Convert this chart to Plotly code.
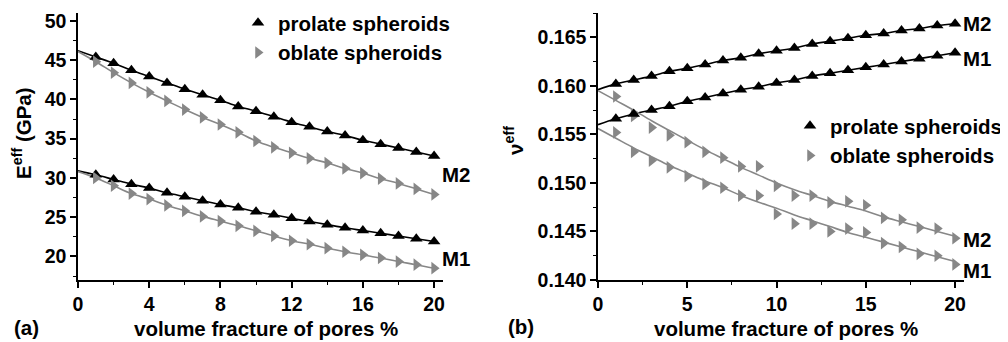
import plotly.graph_objects as go

# ---------------- data ----------------
pores = list(range(1, 21))          # volume fraction of pores, % (marker positions)
fit_x = list(range(0, 21))          # fit line positions

# (a) effective Young's modulus, GPa
E_prolate_M2 = [45.4, 44.6, 43.7, 42.9, 42.1, 41.3, 40.6, 39.9, 39.1, 38.5,
                37.8, 37.1, 36.5, 35.9, 35.4, 34.8, 34.3, 33.8, 33.3, 32.8]
E_oblate_M2 = [44.8, 43.4, 42.1, 40.9, 39.8, 38.7, 37.7, 36.8, 35.8, 34.7,
               33.9, 33.2, 32.5, 31.9, 31.2, 30.6, 29.9, 29.3, 28.6, 27.9]
E_prolate_M1 = [30.4, 29.8, 29.2, 28.7, 28.1, 27.6, 27.1, 26.6, 26.2, 25.7,
                25.3, 24.85, 24.45, 24.05, 23.65, 23.3, 22.95, 22.6, 22.25, 21.9]
E_oblate_M1 = [30.0, 29.0, 28.0, 27.3, 26.5, 25.8, 25.1, 24.5, 23.9, 23.25,
               22.6, 22.0, 21.55, 21.05, 20.6, 20.2, 19.8, 19.35, 18.95, 18.5]
E_start = {"prolate_M2": 46.2, "oblate_M2": 46.1, "prolate_M1": 30.9, "oblate_M1": 30.8}

# (b) effective Poisson's ratio
nu_prolate_M2 = [0.1602, 0.1606, 0.1610, 0.1615, 0.1618, 0.1622, 0.1626, 0.1629, 0.1633, 0.1636,
                 0.1639, 0.1643, 0.1646, 0.1649, 0.1652, 0.1654, 0.1657, 0.1659, 0.1662, 0.1664]
nu_prolate_M1 = [0.1566, 0.1571, 0.1575, 0.1579, 0.1584, 0.1588, 0.1592, 0.1596, 0.1599, 0.1603,
                 0.1606, 0.1610, 0.1613, 0.1616, 0.1619, 0.1622, 0.1625, 0.1628, 0.1631, 0.1634]
nu_oblate_M2 = [0.1589, 0.1569, 0.1557, 0.1549, 0.1542, 0.1532, 0.1526, 0.1517, 0.1517, 0.1497,
                0.1487, 0.1487, 0.1480, 0.1481, 0.1477, 0.1464, 0.1462, 0.1454, 0.1453, 0.1443]
nu_oblate_M1 = [0.1552, 0.1532, 0.1523, 0.1516, 0.1507, 0.1499, 0.1495, 0.1487, 0.1487, 0.1468,
                0.1458, 0.1458, 0.1450, 0.1453, 0.1449, 0.1438, 0.1434, 0.1427, 0.1425, 0.1416]
nu_start = {"prolate_M2": 0.1596, "prolate_M1": 0.1560}
nu_fit_oblate_M2 = [0.1595, 0.1585, 0.1575, 0.1564, 0.1554, 0.1544, 0.1534, 0.1525, 0.1516, 0.1508,
                    0.1500, 0.1493, 0.1487, 0.1481, 0.1476, 0.1471, 0.1465, 0.1460, 0.1455, 0.1450, 0.1445]
nu_fit_oblate_M1 = [0.1556, 0.1546, 0.1536, 0.1527, 0.1518, 0.1510, 0.1502, 0.1495, 0.1487, 0.1480,
                    0.1474, 0.1467, 0.1461, 0.1455, 0.1449, 0.1444, 0.1439, 0.1434, 0.1429, 0.1424, 0.1419]

left_xticks = [0, 4, 8, 12, 16, 20]
right_xticks = [0, 5, 10, 15, 20]

# ---------------- style ----------------
FONT = "Liberation Sans, Arial, sans-serif"
BLACK = "#000000"
GRAY = "#878787"
MS = 11

fig = go.Figure()


def line(x, y, color, xa, ya):
    fig.add_trace(go.Scatter(x=x, y=y, mode="lines", name="fit",
                             line=dict(color=color, width=1.6, shape="spline"),
                             xaxis=xa, yaxis=ya, showlegend=False, hoverinfo="skip"))


def marks(x, y, symbol, color, xa, ya, name, legend="legend", show=False):
    fig.add_trace(go.Scatter(x=x, y=y, mode="markers", name=name,
                             marker=dict(symbol=symbol, size=MS, color=color, line=dict(width=0)),
                             xaxis=xa, yaxis=ya, showlegend=show, legend=legend))


# panel (a)
line([0] + pores, [E_start["prolate_M2"]] + E_prolate_M2, BLACK, "x", "y")
line([0] + pores, [E_start["oblate_M2"]] + E_oblate_M2, GRAY, "x", "y")
line([0] + pores, [E_start["prolate_M1"]] + E_prolate_M1, BLACK, "x", "y")
line([0] + pores, [E_start["oblate_M1"]] + E_oblate_M1, GRAY, "x", "y")
marks(pores, E_prolate_M2, "triangle-up", BLACK, "x", "y", "prolate spheroids", "legend", True)
marks(pores, E_oblate_M2, "triangle-right", GRAY, "x", "y", "oblate spheroids", "legend", True)
marks(pores, E_prolate_M1, "triangle-up", BLACK, "x", "y", "prolate spheroids")
marks(pores, E_oblate_M1, "triangle-right", GRAY, "x", "y", "oblate spheroids")

# panel (b)
line([0] + pores, [nu_start["prolate_M2"]] + nu_prolate_M2, BLACK, "x2", "y2")
line([0] + pores, [nu_start["prolate_M1"]] + nu_prolate_M1, BLACK, "x2", "y2")
line(fit_x, nu_fit_oblate_M2, GRAY, "x2", "y2")
line(fit_x, nu_fit_oblate_M1, GRAY, "x2", "y2")
marks(pores, nu_prolate_M2, "triangle-up", BLACK, "x2", "y2", "prolate spheroids", "legend2", True)
marks(pores, nu_oblate_M2, "triangle-right", GRAY, "x2", "y2", "oblate spheroids", "legend2", True)
marks(pores, nu_prolate_M1, "triangle-up", BLACK, "x2", "y2", "prolate spheroids")
marks(pores, nu_oblate_M1, "triangle-right", GRAY, "x2", "y2", "oblate spheroids")

# the page body has an 8px margin: figure covers the remaining window area
OFF = 8
W, H = 1008 - OFF, 342 - OFF


def px(x):
    """window pixel x -> paper fraction"""
    return (x - OFF) / W


def py(y):
    """window pixel y -> paper fraction"""
    return 1 - (y - OFF) / H


tickfont = dict(family=FONT, size=19.5, color=BLACK, weight="bold")
common = dict(showline=True, linecolor=BLACK, linewidth=1.5, ticks="outside", ticklen=6, tickwidth=1.5,
              tickcolor=BLACK, showgrid=False, zeroline=False, tickfont=tickfont, mirror=False,
              automargin=False)
minor = dict(ticks="outside", ticklen=3.5, tickwidth=1.2, tickcolor=BLACK)

ydom = [py(280), py(13)]
legfont = dict(family=FONT, size=20.5, color=BLACK, weight="bold")
fig.update_layout(
    width=W, height=H, margin=dict(l=0, r=0, t=0, b=0, pad=0, autoexpand=False),
    paper_bgcolor="white", plot_bgcolor="white",
    font=dict(family=FONT, color=BLACK),
    xaxis=dict(domain=[px(78), px(443)], range=[0, 20.5], tickvals=left_xticks, anchor="y",
               minor=dict(dtick=2, tick0=0, **minor), **common),
    yaxis=dict(domain=ydom, range=[17, 51], dtick=5, tick0=0, anchor="x",
               minor=dict(dtick=2.5, tick0=0, **minor), **common),
    xaxis2=dict(domain=[px(598), px(964)], range=[0, 20.5], tickvals=right_xticks, anchor="y2",
                minor=dict(dtick=2.5, tick0=0, **minor), **common),
    yaxis2=dict(domain=ydom, range=[0.140, 0.1675], dtick=0.005, tick0=0.140, tickformat=".3f", anchor="x2",
                minor=dict(dtick=0.0025, tick0=0.140, **minor), **common),
    legend=dict(x=px(238), y=py(38), xanchor="left", yanchor="middle", bgcolor="rgba(0,0,0,0)",
                font=legfont, itemwidth=30),
    legend2=dict(x=px(790), y=py(141), xanchor="left", yanchor="middle", bgcolor="rgba(0,0,0,0)",
                 font=legfont, itemwidth=30),
)

lab = dict(family=FONT, size=20.5, color=BLACK, weight="bold")
ann = []
# axis titles
ann.append(dict(text="volume fracture of pores %", x=px(266), y=py(328), xref="paper", yref="paper",
                showarrow=False, font=lab, xanchor="center", yanchor="middle"))
ann.append(dict(text="volume fracture of pores %", x=px(786), y=py(328), xref="paper", yref="paper",
                showarrow=False, font=lab, xanchor="center", yanchor="middle"))
ann.append(dict(text="E<sup>eff</sup> (GPa)", x=px(22), y=py(133), xref="paper", yref="paper",
                showarrow=False, font=lab, textangle=-90, xanchor="center", yanchor="middle"))
ann.append(dict(text="ν<sup>eff</sup>", x=px(514), y=py(141), xref="paper", yref="paper",
                showarrow=False, font=lab, textangle=-90, xanchor="center", yanchor="middle"))
# panel tags
ann.append(dict(text="(a)", x=px(26), y=py(327), xref="paper", yref="paper", showarrow=False, font=lab,
                xanchor="center", yanchor="middle"))
ann.append(dict(text="(b)", x=px(521), y=py(326), xref="paper", yref="paper", showarrow=False, font=lab,
                xanchor="center", yanchor="middle"))
# series labels
for xr, yr, yv, t, sh in [("x", "y", 30.4, "M2", 6), ("x", "y", 19.8, "M1", 6),
                          ("x2", "y2", 0.16637, "M2", 6), ("x2", "y2", 0.16286, "M1", 6),
                          ("x2", "y2", 0.14412, "M2", 6), ("x2", "y2", 0.14103, "M1", 6)]:
    ann.append(dict(text=t, x=20, y=yv, xref=xr, yref=yr, showarrow=False, font=lab,
                    xanchor="left", yanchor="middle", xshift=sh))
fig.update_layout(annotations=ann)

fig.write_html("out.html")
